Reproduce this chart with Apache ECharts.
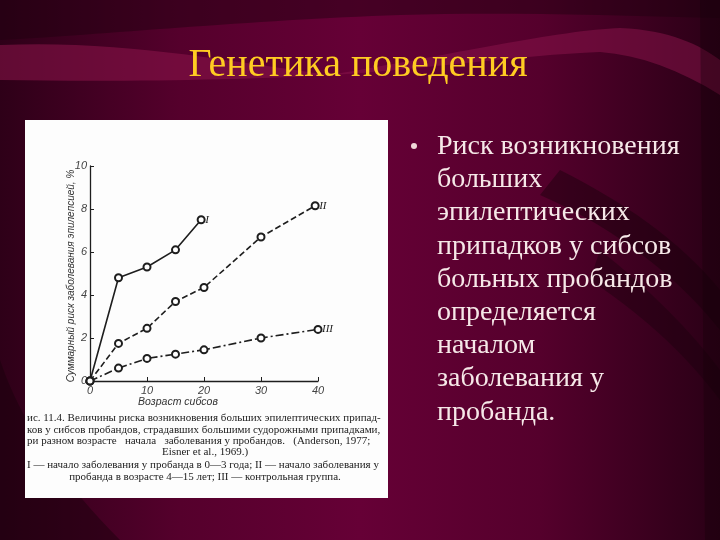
<!DOCTYPE html>
<html><head><meta charset="utf-8">
<script src="https://cdn.jsdelivr.net/npm/echarts@6/dist/echarts.min.js"></script>
<style>html,body{margin:0;padding:0;background:#4a0028}#c{width:720px;height:540px}</style>
</head><body><div id="c"></div>
<script>
const slideTitle = 'Генетика поведения';
const bulletLines = ['Риск возникновения','больших','эпилептических','припадков у сибсов','больных пробандов','определяется','началом','заболевания у','пробанда.'];
const yAxisName = 'Суммарный риск заболевания эпилепсией, %';
const xAxisName = 'Возраст сибсов';
const captionLines = [
  'ис. 11.4. Величины риска возникновения больших эпилептических припад-',
  'ков у сибсов пробандов, страдавших большими судорожными припадками,',
  'ри разном возрасте   начала   заболевания у пробандов.   (Anderson, 1977;',
  'Eisner et al., 1969.)',
  'I — начало заболевания у пробанда в 0—3 года; II — начало заболевания у',
  'пробанда в возрасте 4—15 лет; III — контрольная группа.'
];
const seriesNames = ['I','II','III'];
const seriesI   = [[0,0],[5,4.8],[10,5.3],[15,6.1],[19.5,7.5]];
const seriesII  = [[0,0],[5,1.75],[10,2.45],[15,3.7],[20,4.35],[30,6.7],[39.5,8.15]];
const seriesIII = [[0,0],[5,0.6],[10,1.05],[15,1.25],[20,1.45],[30,2.0],[40,2.4]];

const chart = echarts.init(document.getElementById('c'));
const serif = 'Liberation Serif';
const ink = '#1e1e1e';

const bands = [
  ['M0,45 C120,40 220,60 330,75 C240,80 120,82 0,80 Z','rgba(140,20,75,0.55)'],
  ['M330,75 C450,55 560,30 620,28 C670,30 700,45 720,60 L720,95 C680,70 640,55 600,52 C520,55 420,70 330,75 Z','rgba(140,20,75,0.5)'],
  ['M0,0 L720,0 L720,18 C600,15 500,12 400,15 C250,20 100,35 0,40 Z','rgba(30,0,15,0.45)'],
  ['M560,170 C620,200 680,240 720,290 L720,330 C680,280 620,230 540,195 Z','rgba(25,0,12,0.45)'],
  ['M600,250 C650,290 690,330 720,370 L720,400 C690,360 650,320 590,280 Z','rgba(25,0,12,0.4)'],
  ['M0,360 C20,420 60,480 120,540 L0,540 Z','rgba(25,0,12,0.45)'],
  ['M700,0 L720,0 L720,540 L705,540 Z','rgba(20,0,10,0.35)']
];

const bgGraphics = [
  {type:'rect', z:-10, shape:{x:0,y:0,width:720,height:540},
   style:{fill:new echarts.graphic.LinearGradient(0,0,1,0,[
     {offset:0,color:'#2e0018'},{offset:0.25,color:'#55002c'},{offset:0.5,color:'#660036'},
     {offset:0.75,color:'#55002c'},{offset:1,color:'#2a0016'}])}}
];
bands.forEach((b,i)=>{
  echarts.graphic.registerShape('band'+i, echarts.graphic.extendPath(b[0], {}));
  bgGraphics.push({type:'band'+i, z:-9, style:{fill:b[1]}});
});
bgGraphics.push(
  {type:'rect', z:-5, shape:{x:25,y:120,width:363,height:378}, style:{fill:'#fdfdfd'}},
  {type:'text', z:5, x:358, y:65, style:{text:slideTitle, font:'40px "Liberation Serif"', fill:'#ffcc22', align:'center', verticalAlign:'middle',
    shadowColor:'rgba(0,0,0,0.8)', shadowBlur:2, shadowOffsetX:2, shadowOffsetY:2}},
  {type:'circle', z:5, shape:{cx:414,cy:146,r:3}, style:{fill:'#f0d8d8'}},
  {type:'text', z:5, left:437, top:130, style:{text:bulletLines.join('\n'), font:'28px "Liberation Serif"', lineHeight:33.2, fill:'#f6e8e8',
    shadowColor:'rgba(0,0,0,0.5)', shadowBlur:1, shadowOffsetX:1, shadowOffsetY:1}},
  {type:'text', z:5, x:71, y:276, rotation:Math.PI/2, style:{text:yAxisName, font:'italic 10px "Liberation Sans"', fill:'#333', align:'center', verticalAlign:'middle'}},
  {type:'text', z:5, x:178, y:402, style:{text:xAxisName, font:'italic 10.5px "Liberation Sans"', fill:'#333', align:'center', verticalAlign:'middle'}}
);
const capY = [418,430,441,452,465,477];
const capAlign = ['left','left','left','center','left','center'];
captionLines.forEach((t,i)=>{
  bgGraphics.push({type:'text', z:5, x: capAlign[i]==='center'?205:27, y:capY[i],
    style:{text:t, font:'11px "Liberation Serif"', fill:'#222', align:capAlign[i], verticalAlign:'middle'}});
});

function mk(name,data,dash){
  return {name, type:'line', data, symbol:'emptyCircle', symbolSize:7, showAllSymbol:true,
    lineStyle:{color:ink,width:1.6,type:dash}, itemStyle:{color:ink,borderColor:ink,borderWidth:1},
    endLabel:{show:true, formatter:name, color:ink, fontFamily:serif, fontStyle:'italic', fontSize:11, distance:4},
    animation:false};
}

chart.setOption({
  animation:false,
  backgroundColor:'transparent',
  graphic:bgGraphics,
  grid:{left:90, top:166, width:228, height:215},
  xAxis:{type:'value', min:0, max:40, interval:10,
    axisLine:{show:true,lineStyle:{color:ink,width:1.3}},
    axisTick:{show:true,inside:true,length:4,lineStyle:{color:ink}},
    axisLabel:{color:'#444', fontStyle:'italic', fontSize:11, margin:4},
    splitLine:{show:false}},
  yAxis:{type:'value', min:0, max:10, interval:2,
    axisLine:{show:true,lineStyle:{color:ink,width:1.3}},
    axisTick:{show:true,inside:true,length:4,lineStyle:{color:ink}},
    axisLabel:{color:'#444', fontStyle:'italic', fontSize:11, margin:3},
    splitLine:{show:false}},
  series:[
    mk(seriesNames[0], seriesI, 'solid'),
    mk(seriesNames[1], seriesII, [6,3]),
    mk(seriesNames[2], seriesIII, [8,3,2,3])
  ]
});
</script></body></html>
